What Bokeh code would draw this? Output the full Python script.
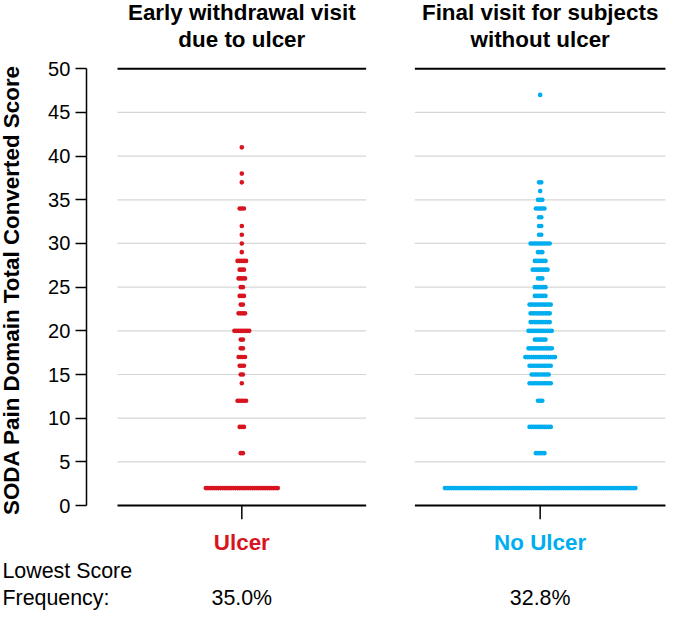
import numpy as np
from bokeh.plotting import figure
from bokeh.models import Range1d, FixedTicker
from bokeh.core.properties import value
from bokeh.embed import file_html
from bokeh.resources import INLINE

# ---------------- data ----------------
groups = ["Ulcer", "No Ulcer"]
panel_titles = [["Early withdrawal visit", "due to ulcer"],
                ["Final visit for subjects", "without ulcer"]]
freq_labels = ["35.0%", "32.8%"]
freq_caption = ["Lowest Score", "Frequency:"]

ulcer_scores = [2, 6, 9, 12, 14, 15, 16, 17, 18, 19, 20, 22, 23, 24, 25, 26,
                27, 28, 29, 30, 31, 32, 34, 37, 38, 41]
ulcer_counts = [35, 2, 3, 5, 1, 2, 3, 4, 2, 2, 8, 4, 2, 3, 2, 4,
                3, 5, 1, 1, 1, 1, 3, 1, 1, 1]

noulcer_scores = [2, 6, 9, 12, 14, 15, 16, 17, 18, 19, 20, 21, 22, 23, 24, 25,
                  26, 27, 28, 29, 30, 31, 32, 33, 34, 35, 36, 37, 47]
noulcer_counts = [91, 5, 11, 3, 11, 9, 11, 15, 12, 6, 12, 10, 10, 11, 6, 6,
                  3, 8, 6, 3, 10, 2, 2, 2, 5, 3, 1, 2, 1]

y_ticks = list(range(0, 51, 5))
y_title = "SODA Pain Domain Total Converted Score"

# ---------------- layout / style ----------------
W, H = 667, 610
S = 0.975                          # reference px -> canvas px
BASE_FIX = 7.5                     # svg baseline correction (px)


def X(rx):
    return rx * S


def fs(px):
    return "%.1fpx" % (px * S)


AXIS_X = X(88)
Y0_PX, Y50_PX = 518 * S, 70 * S   # canvas px of score 0 and 50
PPU = (Y0_PX - Y50_PX) / 50.0     # px per score unit
colors = ["#D7141F", "#00AEEF"]
panels = [(X(120), X(375)), (X(425), X(682))]
centers = [(a + b) / 2 for a, b in panels]
spacing = 2.17 * S
dot_size = 4.8 * S
FONT = "Liberation Sans"


def Y(ry):
    return 50 - (ry * S - Y50_PX) / PPU


def YT(ry):
    # baseline position for text glyphs
    return 50 - (ry * S - BASE_FIX - Y50_PX) / PPU


p = figure(width=W, height=H, output_backend="svg", toolbar_location=None,
           x_range=Range1d(0, W), y_range=Range1d(50 - (H - Y50_PX) / PPU,
                                                  50 + Y50_PX / PPU),
           min_border_left=0, min_border_right=0, min_border_top=0,
           min_border_bottom=0, x_axis_location=None)
p.outline_line_color = None
p.xgrid.visible = False
p.ygrid.visible = False
p.background_fill_color = "white"
p.border_fill_color = "white"

ax = p.yaxis[0]
ax.fixed_location = AXIS_X
ax.bounds = (0, 50)
ax.ticker = FixedTicker(ticks=y_ticks)
ax.minor_tick_line_color = None
ax.major_tick_in = 0
ax.major_tick_out = 11
ax.major_tick_line_width = 1.5
ax.axis_line_width = 1.5
ax.axis_line_color = "black"
ax.major_tick_line_color = "black"
ax.major_label_text_font = FONT
ax.major_label_text_font_size = fs(20.5)
ax.major_label_text_color = "black"
ax.major_label_standoff = 5

# grid lines and frame lines per panel
gx0, gx1, gy = [], [], []
for (a, b) in panels:
    for t in y_ticks[1:-1]:
        gx0.append(a); gx1.append(b); gy.append(t)
p.segment(x0=gx0, y0=gy, x1=gx1, y1=gy, line_color="#d6d6d6", line_width=1.2)
bx0, bx1, by = [], [], []
for (a, b) in panels:
    for t in (0, 50):
        bx0.append(a); bx1.append(b); by.append(t)
p.segment(x0=bx0, y0=by, x1=bx1, y1=by, line_color="black", line_width=2)
p.segment(x0=centers, y0=[0, 0], x1=centers, y1=[-14 * S / PPU] * 2,
          line_color="black", line_width=1.5)

# dots
for scores, counts, c, col in [(ulcer_scores, ulcer_counts, centers[0], colors[0]),
                               (noulcer_scores, noulcer_counts, centers[1], colors[1])]:
    xs, yv = [], []
    for s, n in zip(scores, counts):
        offs = (np.arange(n) - (n - 1) / 2.0) * spacing
        xs.extend((c + offs).tolist())
        yv.extend([s] * n)
    p.scatter(x=xs, y=yv, size=dot_size, marker="circle", fill_color=col,
              line_color=None)

# titles
for i, lines in enumerate(panel_titles):
    for j, t in enumerate(lines):
        p.text(x=[centers[i]], y=[YT(20 + 28 * j)], text=[t],
               text_font=value(FONT), text_font_style="bold",
               text_font_size=fs(23), text_align="center",
               text_baseline="alphabetic", text_color="black")

# group labels
p.text(x=centers, y=[YT(564)] * 2, text=groups, text_color=colors,
       text_font=value(FONT), text_font_style="bold", text_font_size=fs(23),
       text_align="center", text_baseline="alphabetic")
# frequencies
p.text(x=centers, y=[YT(620)] * 2, text=freq_labels, text_color="black",
       text_font=value(FONT), text_font_size=fs(22),
       text_align="center", text_baseline="alphabetic")
p.text(x=[X(2), X(2)], y=[YT(593), YT(620)], text=freq_caption, text_color="black",
       text_font=value(FONT), text_font_size=fs(22),
       text_align="left", text_baseline="alphabetic")

# y axis title
p.text(x=[X(11.5)], y=[Y(297)], text=[y_title], angle=np.pi / 2,
       text_font=value(FONT), text_font_style="bold", text_font_size=fs(23),
       text_color="black", text_align="center", text_baseline="middle")

open("out.html", "w").write(file_html(p, INLINE))
